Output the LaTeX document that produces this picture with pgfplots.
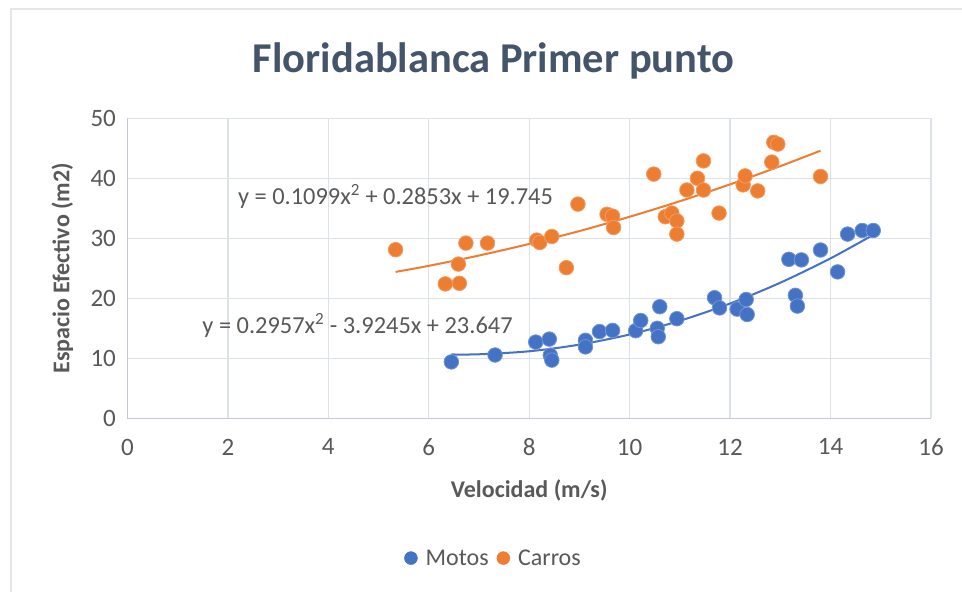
\documentclass[border=0pt]{standalone}
\usepackage{pgfplots}
\pgfplotsset{compat=1.18}
\usepackage{fontspec}
\setmainfont{Carlito}
\definecolor{motos}{HTML}{4472C4}
\definecolor{carros}{HTML}{ED7D31}
\definecolor{gridc}{HTML}{DDE1E8}
\definecolor{axisc}{HTML}{C3CAD6}
\definecolor{txt}{HTML}{595959}
\definecolor{titc}{HTML}{44546A}
\definecolor{bordc}{HTML}{E3E6EB}
\begin{document}
\begin{tikzpicture}
\useasboundingbox (0,0) rectangle (962pt,592pt);
\fill[white] (0,0) rectangle (962pt,592pt);
\draw[bordc, line width=2.5pt] (11pt,0) -- (11pt,583pt) -- (962pt,583pt);
\begin{axis}[
  at={(127.4pt,173.7pt)}, anchor=south west,
  scale only axis, width=803.6pt, height=300pt,
  xmin=0, xmax=16, ymin=0, ymax=50,
  xtick={0,2,...,16}, ytick={0,10,...,50},
  major tick length=0pt,
  grid=major, grid style={color=gridc, line width=1.3pt},
  axis x line=bottom, axis y line=left,
  axis line style={-, color=axisc, line width=1.3pt},
  /pgf/number format/assume math mode=true,
  tick label style={font=\fontsize{25}{29}\selectfont, text=txt},
  xticklabel style={yshift=-17pt},
  yticklabel style={xshift=-8pt},
  title={Floridablanca Primer punto},
  title style={at={(axis description cs:0.4556,1.17)}, anchor=center, font=\fontsize{42.5}{50}\selectfont\bfseries, text=titc},
  xlabel={Velocidad (m/s)},
  xlabel style={at={(axis description cs:0.5,-0.24)}, anchor=center, font=\fontsize{24}{28}\selectfont\bfseries, text=txt},
  ylabel={Espacio Efectivo (m2)},
  ylabel style={at={(axis description cs:-0.081,0.5)}, anchor=center, rotate=0, font=\fontsize{24}{28}\selectfont\bfseries, text=txt},
  legend columns=2,
  legend style={at={(axis description cs:0.4556,-0.466)}, anchor=center, draw=none, fill=none,
    font=\fontsize{24}{28}\selectfont, text=txt, column sep=6pt},
  legend cell align=left,
  legend image code/.code={\fill (0pt,0pt) circle (6.5pt);},
]
\addplot[only marks, color=motos, mark=*, mark size=7.3pt, mark options={fill=motos, draw=motos!75!white, line width=0.8pt}] coordinates {
(6.45,9.4) (7.32,10.55) (8.13,12.7) (8.40,13.2) (8.42,10.5) (8.45,9.7)
(9.12,13.0) (9.12,11.9) (9.40,14.45) (9.66,14.65) (10.12,14.6) (10.22,16.3)
(10.55,15.0) (10.60,18.6) (10.57,13.6) (10.94,16.6) (11.69,20.1) (11.79,18.4)
(12.14,18.2) (12.32,19.8) (12.34,17.3) (13.17,26.5) (13.42,26.4) (13.80,28.05)
(14.14,24.4) (13.30,20.5) (13.34,18.7) (14.34,30.7) (14.63,31.3) (14.85,31.3)
};
\addlegendentry{Motos}
\addplot[only marks, color=carros, mark=*, mark size=7.3pt, mark options={fill=carros, draw=carros!75!white, line width=0.8pt}] coordinates {
(5.34,28.1) (6.33,22.4) (6.61,22.5) (6.59,25.7) (6.74,29.2) (7.17,29.2)
(8.15,29.7) (8.21,29.3) (8.45,30.3) (8.74,25.1) (8.97,35.7) (9.55,34.0)
(9.66,33.7) (9.68,31.8) (10.48,40.7) (10.71,33.6) (10.84,34.2) (10.94,32.9)
(10.94,30.7) (11.14,38.05) (11.35,40.0) (11.47,38.05) (11.47,42.9) (11.78,34.2)
(12.26,38.9) (12.30,40.4) (12.55,37.9) (12.83,42.7) (12.87,46.0) (12.95,45.7)
(13.80,40.3)
};
\addlegendentry{Carros}
% trend lines (values from the printed equations)
\addplot[forget plot, color=motos, line width=2pt, smooth] coordinates {
(6.45,10.64) (7,10.67) (8,11.17) (9,12.28) (10,13.97) (11,16.26) (12,19.13) (13,22.60) (14,26.66) (14.85,30.58)
};
\addplot[forget plot, color=carros, line width=2pt, smooth] coordinates {
(5.34,24.40) (6,25.41) (7,27.13) (8,29.06) (9,31.21) (10,33.59) (11,36.18) (12,38.99) (13,42.03) (13.8,44.60)
};
\node[anchor=west, text=txt, font=\fontsize{24.4}{28}\selectfont, inner sep=0pt] at (axis cs:2.2,36.9) {y = 0.1099x\textsuperscript{2} + 0.2853x + 19.745};
\node[anchor=west, text=txt, font=\fontsize{24.4}{28}\selectfont, inner sep=0pt] at (axis cs:1.49,15.55) {y = 0.2957x\textsuperscript{2} - 3.9245x + 23.647};
\end{axis}
\end{tikzpicture}
\end{document}
